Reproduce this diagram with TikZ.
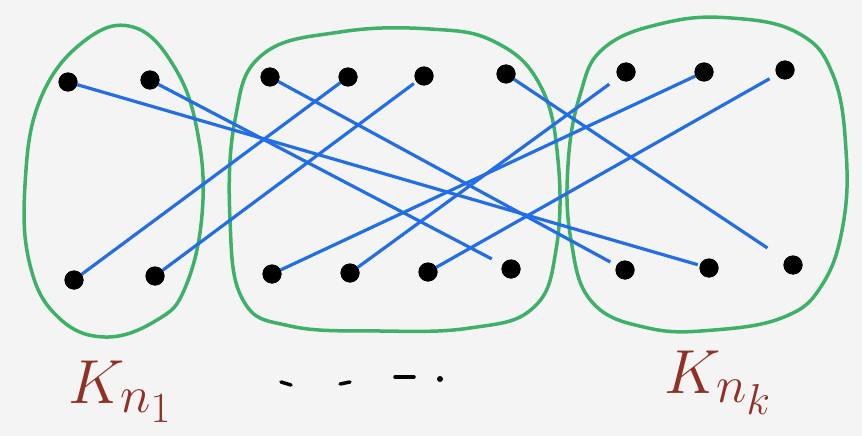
\documentclass[tikz,border=0pt]{standalone}
\definecolor{bg}{RGB}{244,244,244}
\definecolor{grn}{RGB}{62,176,104}
\definecolor{blu}{RGB}{35,110,230}
\definecolor{lbl}{RGB}{145,48,38}
\begin{document}
\begin{tikzpicture}[x=1pt,y=-1pt,
  dot/.style={circle,fill=black,inner sep=0pt,minimum size=19pt},
  blob/.style={draw=grn,line width=3.5pt},
  conn/.style={draw=blu,line width=3.2pt},
  lab/.style={text=lbl,inner sep=0pt,anchor=base west,scale=2.5,font=\Huge},
  dashmark/.style={line width=3.5pt,line cap=round}]
\fill[bg] (0,0) rectangle (862,436);
\useasboundingbox (0,0) rectangle (862,436);
% blobs
\draw[blob] plot[smooth cycle,tension=0.7] coordinates {
  (133,27) (83,42) (40,100) (25,185) (30,265) (58,317) (105,337)
  (157,320) (185,288) (202,215) (198,135) (175,68)};
\draw[blob] plot[smooth cycle,tension=0.7] coordinates {
  (262,55) (340,32) (430,29) (495,42) (540,85) (558,160)
  (556,250) (533,308) (470,328) (380,331) (290,326) (243,300) (230,220) (235,120)};
\draw[blob] plot[smooth cycle,tension=0.7] coordinates {
  (604,48) (664,23) (731,18) (798,33) (833,75) (846,150) (843,225)
  (822,285) (784,317) (714,330) (648,328) (592,302) (571,240) (568,165) (580,95)};
% dots
\node[dot] (a1) at (68,82) {};
\node[dot] (a2) at (150,80) {};
\node[dot] (a3) at (74,280) {};
\node[dot] (a4) at (155,276) {};
\node[dot] (b1) at (270,77) {};
\node[dot] (b2) at (348,77) {};
\node[dot] (b3) at (424,76) {};
\node[dot] (b4) at (506,74) {};
\node[dot] (b5) at (272,274) {};
\node[dot] (b6) at (350,273) {};
\node[dot] (b7) at (428,272) {};
\node[dot] (b8) at (511,269) {};
\node[dot] (c1) at (626,72) {};
\node[dot] (c2) at (704,72) {};
\node[dot] (c3) at (785,70) {};
\node[dot] (c4) at (625,270) {};
\node[dot] (c5) at (709,268) {};
\node[dot] (c6) at (793,265) {};
% connectors
\draw[conn,shorten >=2pt] (a1) -- (c5);
\draw[conn,shorten >=12pt] (a2) -- (b8);
\draw[conn,shorten >=7pt] (b1) -- (c4);
\draw[conn,shorten >=21pt] (b4) -- (c6);
\draw[conn] (a3) -- (b2);
\draw[conn,shorten >=3pt] (a4) -- (b3);
\draw[conn] (b5) -- (c2);
\draw[conn,shorten >=11pt] (b6) -- (c1);
\draw[conn,shorten >=8pt] (b7) -- (c3);
% redraw dots on top
\foreach \n in {a1,a2,a3,a4,b1,b2,b3,b4,b5,b6,b7,b8,c1,c2,c3,c4,c5,c6}
  \fill (\n) circle (9.5pt);
% labels
\node[lab] (k1) at (68,403) {$K_{n_1}$};
\node[lab] (kk) at (664,393) {$K_{n_k}$};
% dots between
\draw[dashmark] (281,382) -- (291,385);
\draw[dashmark] (340,384) -- (350,382);
\draw[dashmark] (395,377) -- (414,377);
\fill (440,379) circle (3pt);
\end{tikzpicture}
\end{document}
